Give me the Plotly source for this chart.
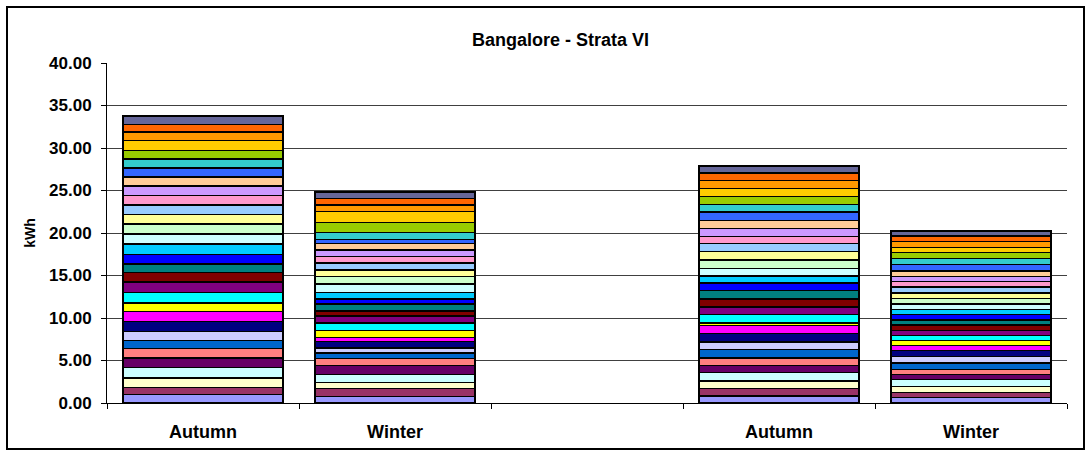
import plotly.graph_objects as go

# Seasons shown on the category axis (the middle slot is left empty)
seasons = ["Autumn", "Winter", "Autumn", "Winter"]
season_pos = [0, 1, 3, 4]

# Series fill colours, bottom of the stack first
series_colors = [
    "#9999FF", "#993366", "#FFFFCC", "#CCFFFF", "#660066", "#FF8080", "#0066CC", "#CCCCFF",
    "#000080", "#FF00FF", "#FFFF00", "#00FFFF", "#800080", "#800000", "#008080", "#0000FF",
    "#00CCFF", "#CCFFFF", "#CCFFCC", "#FFFF99", "#99CCFF", "#FF99CC", "#CC99FF", "#FFCC99",
    "#3366FF", "#33CCCC", "#99CC00", "#FFCC00", "#FF9900", "#FF6600", "#666699",
]

# kWh per series (bottom to top) for each of the four bars
autumn_1 = [0.98, 0.86, 1.10, 1.25, 1.10, 1.10, 0.98, 1.06, 1.18, 1.18, 0.98, 1.25, 1.22, 1.14, 0.98, 1.10,
            1.25, 1.18, 1.18, 1.10, 1.10, 1.14, 1.10, 1.10, 1.06, 1.06, 0.98, 1.18, 0.98, 0.90, 0.98]
winter_1 = [0.78, 0.90, 0.75, 0.90, 1.06, 0.82, 0.67, 0.59, 0.78, 0.47, 0.82, 0.86, 0.86, 0.59, 0.78, 0.63,
            0.75, 0.98, 0.90, 0.78, 0.78, 0.78, 0.78, 0.78, 0.47, 0.82, 1.14, 1.29, 0.78, 0.78, 0.78]
autumn_2 = [0.82, 0.86, 0.90, 0.98, 0.86, 0.90, 0.98, 0.90, 0.98, 0.94, 0.31, 0.98, 0.90, 0.94, 0.98, 0.90,
            0.82, 0.90, 0.98, 0.98, 0.94, 0.82, 0.94, 0.98, 0.98, 0.90, 0.90, 0.98, 0.94, 0.86, 0.86]
winter_2 = [0.67, 0.59, 0.71, 0.78, 0.59, 0.59, 0.78, 0.78, 0.71, 0.59, 0.59, 0.59, 0.55, 0.63, 0.63, 0.63,
            0.59, 0.67, 0.63, 0.67, 0.67, 0.63, 0.59, 0.67, 0.78, 0.67, 0.71, 0.59, 0.71, 0.67, 0.59]

y_ticks = [0, 5, 10, 15, 20, 25, 30, 35, 40]

FONT = "Liberation Sans, Arial, sans-serif"

fig = go.Figure()
for i, color in enumerate(series_colors):
    fig.add_trace(go.Bar(
        x=season_pos,
        y=[autumn_1[i], winter_1[i], autumn_2[i], winter_2[i]],
        name=f"Series {i + 1}",
        marker=dict(color=color, line=dict(color="black", width=1.5)),
        width=1 / 1.2,
    ))

# plot area spans 107..1067 px horizontally and 63..403 px vertically
L, R, T, B = 107, 1067, 63, 403
W, H = 1091, 455


def px(x):
    return (x - L) / (R - L)


def py(y):
    return (B - y) / (B - T)


fig.update_layout(
    barmode="stack",
    width=W, height=H,
    margin=dict(l=L, r=W - R, t=T, b=H - B),
    paper_bgcolor="white",
    plot_bgcolor="white",
    showlegend=False,
    font=dict(family=FONT, color="black"),
    xaxis=dict(
        range=[-0.5, 4.5],
        tickmode="array",
        tickvals=season_pos,
        ticktext=seasons,
        ticks="",
        showgrid=False,
        zeroline=False,
        showline=True, linecolor="black", linewidth=1,
        tickfont=dict(size=18, family=FONT, weight="bold"),
        ticklabelstandoff=12,
        minor=dict(tickmode="array", tickvals=[-0.5, 0.5, 1.5, 2.5, 3.5, 4.5],
                   ticks="outside", ticklen=5, tickcolor="black", showgrid=False),
    ),
    yaxis=dict(
        range=[0, 40],
        tickmode="array",
        tickvals=y_ticks,
        tickformat=".2f",
        ticks="outside", ticklen=5, tickcolor="black",
        showgrid=True, gridcolor="#404040", gridwidth=1,
        zeroline=False,
        showline=True, linecolor="black", linewidth=1,
        tickfont=dict(size=17, family=FONT, weight="bold"),
        ticklabelstandoff=6,
        title=dict(text="kWh", font=dict(size=14, weight="bold"), standoff=10),
    ),
    shapes=[
        dict(type="rect", xref="paper", yref="paper",
             x0=px(7), x1=px(1084), y0=py(449), y1=py(7),
             line=dict(color="black", width=2), layer="below"),
    ],
    annotations=[
        dict(text="Bangalore - Strata VI", xref="paper", yref="paper",
             x=px(560), y=py(40), showarrow=False,
             font=dict(size=18, weight="bold"), xanchor="center", yanchor="middle"),
    ],
)

fig.write_html("out.html")
